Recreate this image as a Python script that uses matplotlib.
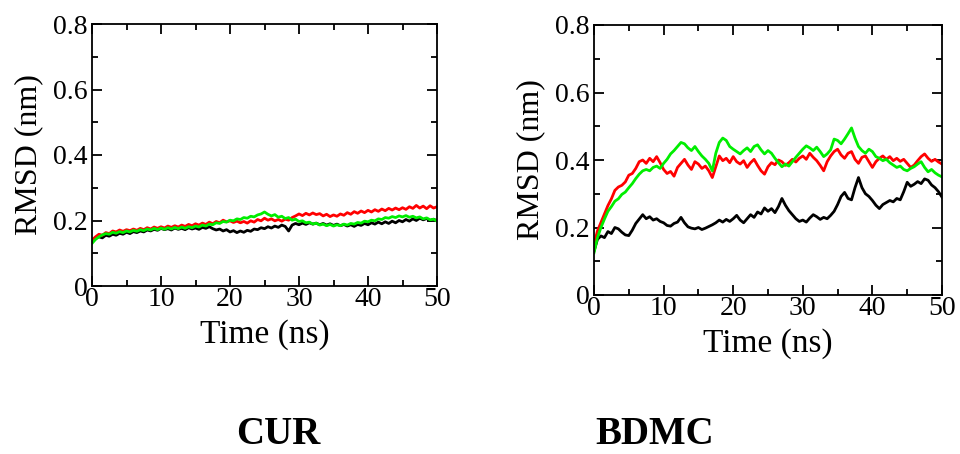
import numpy as np
import matplotlib
matplotlib.use("Agg")
import matplotlib.pyplot as plt
from matplotlib.ticker import MultipleLocator

plt.rcParams['font.family'] = ['Liberation Serif', 'DejaVu Serif']

panel_titles = ["CUR", "BDMC"]
x_label = "Time (ns)"
y_label = "RMSD (nm)"

cur_black = [0.138, 0.146, 0.150, 0.147, 0.155, 0.152, 0.158, 0.155, 0.161, 0.158,
             0.164, 0.160, 0.166, 0.163, 0.168, 0.165, 0.171, 0.168, 0.173, 0.170,
             0.176, 0.172, 0.175, 0.171, 0.177, 0.173, 0.176, 0.172, 0.178, 0.174,
             0.177, 0.173, 0.179, 0.176, 0.181, 0.175, 0.171, 0.174, 0.168, 0.172,
             0.165, 0.169, 0.163, 0.168, 0.164, 0.170, 0.167, 0.174, 0.172, 0.178,
             0.175, 0.181, 0.177, 0.183, 0.179, 0.186, 0.182, 0.168, 0.186, 0.191,
             0.187, 0.192, 0.188, 0.193, 0.189, 0.192, 0.187, 0.191, 0.186, 0.190,
             0.185, 0.189, 0.184, 0.188, 0.183, 0.187, 0.182, 0.188, 0.185, 0.191,
             0.187, 0.193, 0.189, 0.195, 0.190, 0.196, 0.191, 0.198, 0.193, 0.200,
             0.196, 0.203, 0.198, 0.205, 0.200, 0.207, 0.202, 0.206, 0.200, 0.204,
             0.199]
cur_red = [0.140, 0.150, 0.158, 0.155, 0.163, 0.160, 0.168, 0.165, 0.171, 0.167,
           0.172, 0.169, 0.174, 0.170, 0.176, 0.172, 0.178, 0.174, 0.180, 0.176,
           0.181, 0.177, 0.183, 0.179, 0.184, 0.180, 0.186, 0.182, 0.188, 0.184,
           0.190, 0.186, 0.192, 0.188, 0.195, 0.190, 0.197, 0.193, 0.201, 0.196,
           0.199, 0.194, 0.198, 0.193, 0.197, 0.192, 0.199, 0.195, 0.203, 0.199,
           0.207, 0.201, 0.205, 0.199, 0.203, 0.198, 0.204, 0.201, 0.209, 0.214,
           0.220, 0.215, 0.222, 0.217, 0.223, 0.218, 0.221, 0.214, 0.219, 0.212,
           0.217, 0.213, 0.220, 0.216, 0.224, 0.219, 0.227, 0.222, 0.229, 0.224,
           0.231, 0.226, 0.233, 0.228, 0.235, 0.230, 0.237, 0.232, 0.238, 0.233,
           0.239, 0.234, 0.242, 0.237, 0.246, 0.238, 0.244, 0.236, 0.245, 0.238,
           0.242]
cur_green = [0.130, 0.142, 0.150, 0.156, 0.160, 0.158, 0.164, 0.161, 0.166, 0.163,
             0.168, 0.165, 0.170, 0.167, 0.172, 0.169, 0.174, 0.171, 0.176, 0.172,
             0.177, 0.173, 0.178, 0.174, 0.179, 0.175, 0.180, 0.176, 0.181, 0.178,
             0.183, 0.180, 0.186, 0.183, 0.189, 0.187, 0.193, 0.191, 0.197, 0.195,
             0.201, 0.199, 0.205, 0.203, 0.209, 0.207, 0.213, 0.211, 0.217, 0.220,
             0.226, 0.219, 0.214, 0.218, 0.210, 0.213, 0.206, 0.209, 0.201, 0.204,
             0.197, 0.199, 0.193, 0.195, 0.189, 0.192, 0.186, 0.189, 0.184, 0.188,
             0.183, 0.187, 0.184, 0.189, 0.186, 0.191, 0.189, 0.194, 0.192, 0.198,
             0.196, 0.201, 0.199, 0.205, 0.203, 0.209, 0.207, 0.212, 0.209, 0.214,
             0.211, 0.215, 0.210, 0.213, 0.208, 0.211, 0.205, 0.208, 0.202, 0.204,
             0.198]

bdmc_black = [0.130, 0.165, 0.175, 0.170, 0.188, 0.182, 0.200, 0.196, 0.186, 0.178,
              0.176, 0.192, 0.212, 0.225, 0.238, 0.226, 0.232, 0.222, 0.226, 0.218,
              0.214, 0.206, 0.204, 0.212, 0.216, 0.230, 0.214, 0.202, 0.198, 0.196,
              0.200, 0.194, 0.198, 0.203, 0.208, 0.214, 0.222, 0.216, 0.224, 0.218,
              0.226, 0.236, 0.222, 0.214, 0.226, 0.238, 0.230, 0.246, 0.240, 0.258,
              0.248, 0.256, 0.244, 0.262, 0.286, 0.266, 0.250, 0.238, 0.226, 0.218,
              0.222, 0.216, 0.228, 0.238, 0.232, 0.224, 0.230, 0.226, 0.236, 0.248,
              0.268, 0.292, 0.304, 0.286, 0.282, 0.318, 0.348, 0.318, 0.300, 0.292,
              0.280, 0.266, 0.256, 0.268, 0.274, 0.280, 0.276, 0.286, 0.282, 0.306,
              0.334, 0.322, 0.328, 0.336, 0.330, 0.344, 0.340, 0.326, 0.318, 0.306,
              0.290]
bdmc_red = [0.150, 0.190, 0.215, 0.240, 0.265, 0.285, 0.310, 0.320, 0.325, 0.335,
            0.355, 0.360, 0.375, 0.395, 0.400, 0.390, 0.405, 0.395, 0.410, 0.392,
            0.372, 0.360, 0.366, 0.352, 0.378, 0.390, 0.402, 0.385, 0.372, 0.395,
            0.388, 0.375, 0.382, 0.368, 0.348, 0.380, 0.412, 0.398, 0.405, 0.392,
            0.410, 0.395, 0.388, 0.398, 0.378, 0.392, 0.402, 0.384, 0.368, 0.358,
            0.380, 0.392, 0.386, 0.400, 0.395, 0.384, 0.392, 0.402, 0.394, 0.405,
            0.412, 0.402, 0.420, 0.408, 0.398, 0.384, 0.368, 0.395, 0.412, 0.425,
            0.432, 0.415, 0.405, 0.420, 0.425, 0.402, 0.390, 0.408, 0.412, 0.395,
            0.378, 0.395, 0.405, 0.412, 0.402, 0.410, 0.398, 0.405, 0.396, 0.402,
            0.390, 0.378, 0.385, 0.398, 0.410, 0.418, 0.405, 0.396, 0.402, 0.394,
            0.388]
bdmc_green = [0.125, 0.170, 0.200, 0.225, 0.248, 0.262, 0.278, 0.285, 0.298, 0.305,
              0.318, 0.330, 0.345, 0.358, 0.368, 0.372, 0.368, 0.378, 0.382, 0.375,
              0.390, 0.402, 0.418, 0.428, 0.440, 0.452, 0.448, 0.436, 0.428, 0.440,
              0.425, 0.412, 0.402, 0.390, 0.368, 0.420, 0.452, 0.465, 0.458, 0.440,
              0.432, 0.425, 0.418, 0.428, 0.436, 0.425, 0.440, 0.445, 0.430, 0.418,
              0.428, 0.420, 0.405, 0.392, 0.380, 0.388, 0.382, 0.395, 0.408, 0.420,
              0.432, 0.442, 0.436, 0.428, 0.438, 0.425, 0.410, 0.418, 0.430, 0.462,
              0.458, 0.448, 0.462, 0.478, 0.495, 0.465, 0.440, 0.428, 0.420, 0.432,
              0.425, 0.410, 0.405, 0.398, 0.402, 0.392, 0.385, 0.378, 0.382, 0.372,
              0.368, 0.375, 0.380, 0.388, 0.395, 0.378, 0.365, 0.372, 0.362, 0.355,
              0.350]

panels = [
    (cur_black, cur_red, cur_green),
    (bdmc_black, bdmc_red, bdmc_green),
]
line_colors = ["#000000", "#ff0000", "#00ee00"]

fig = plt.figure(figsize=(9.6, 4.54), dpi=100)
rects = [
    [92 / 960, 1 - 286 / 454, (437 - 92) / 960, (286 - 24) / 454],
    [594 / 960, 1 - 295 / 454, (942 - 594) / 960, (295 - 25) / 454],
]
title_x = [278 / 960, 655 / 960]

for rect, series, title, tx in zip(rects, panels, panel_titles, title_x):
    ax = fig.add_axes(rect)
    for s, c in zip(series, line_colors):
        t = np.linspace(0, 50, len(s))
        ax.plot(t, s, color=c, lw=2.0)
    ax.set_xlim(0, 50)
    ax.set_ylim(0, 0.8)
    ax.xaxis.set_major_locator(MultipleLocator(10))
    ax.xaxis.set_minor_locator(MultipleLocator(5))
    ax.yaxis.set_minor_locator(MultipleLocator(0.1))
    ax.set_yticks([0, 0.2, 0.4, 0.6, 0.8])
    ax.set_yticklabels(["0", "0.2", "0.4", "0.6", "0.8"])
    ax.tick_params(which='both', direction='in', top=True, right=True,
                   labelsize=20, width=1.3)
    ax.tick_params(axis='x', pad=1)
    ax.tick_params(axis='y', pad=3)
    ax.tick_params(which='major', length=7)
    ax.tick_params(which='minor', length=4)
    for sp in ax.spines.values():
        sp.set_linewidth(1.3)
    ax.set_xlabel(x_label, fontsize=24, labelpad=5)
    ax.set_ylabel(y_label, fontsize=23, labelpad=7)
    fig.text(tx, 1 - 435 / 454, title, fontsize=28, fontweight='bold',
             ha='center', va='center')

fig.savefig("out.png", dpi=100)
